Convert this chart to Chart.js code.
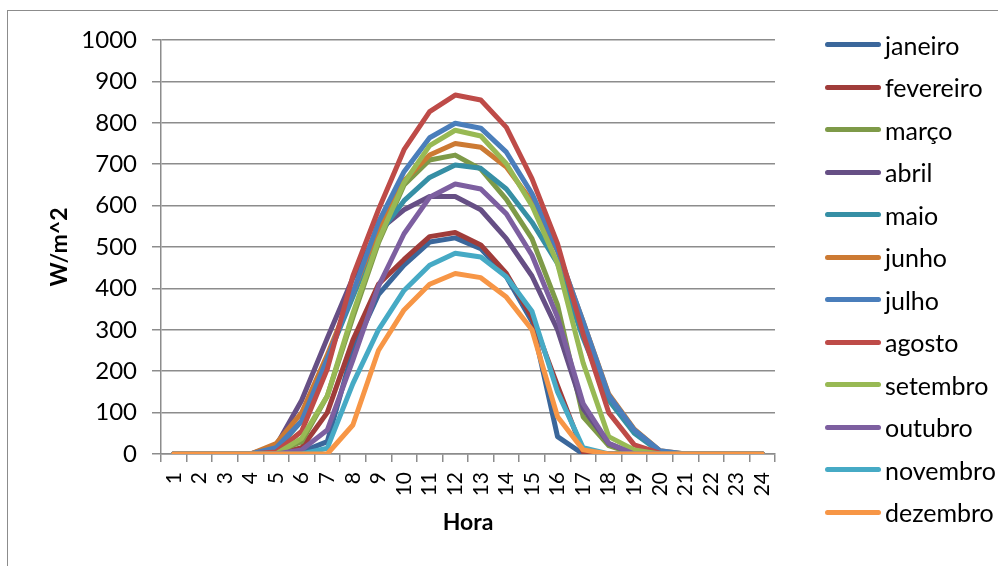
<!DOCTYPE html>
<html>
<head>
<meta charset="utf-8">
<script src="https://cdn.jsdelivr.net/npm/chart.js@4"></script>
<style>
  html, body { margin: 0; padding: 0; background: #fff; }
  body { width: 998px; height: 566px; overflow: hidden; position: relative; font-family: Lato, "Open Sans", sans-serif; }
  #frame { position: absolute; left: 7px; top: 10px; width: 1100px; height: 700px; border: 1px solid #8c8c8c; box-sizing: border-box; }
  #wrap { position: absolute; left: 0; top: 0; width: 998px; height: 566px; }
  #legend { position: absolute; left: 0; top: 0; }
  .item { position: absolute; left: 825px; height: 30px; display: flex; align-items: center; }
  .swatch { width: 56px; height: 5px; border-radius: 3px; margin-right: 4px; }
  .lbl { font-family: Lato, sans-serif; font-size: 25px; color: #000; line-height: 30px; }
</style>
</head>
<body>
<div id="frame"></div>
<div id="wrap"><canvas id="c" width="998" height="566"></canvas></div>
<div id="legend"></div>
<script>
const hours = ['1','2','3','4','5','6','7','8','9','10','11','12','13','14','15','16','17','18','19','20','21','22','23','24'];
const yTickValues = [0,100,200,300,400,500,600,700,800,900,1000];

const monthNames = ['janeiro','fevereiro','março','abril','maio','junho','julho','agosto','setembro','outubro','novembro','dezembro'];
const monthColors = ['#3B679B','#A03C3A','#7E9A48','#664F85','#368FA5','#CC7A33','#4A7EBB','#BE4B48','#98B954','#7D5FA0','#46AAC5','#F79646'];

const janeiro   = [0,0,0,0,0,5,30,250,385,456,512,522,496,428,320,42,0,0,0,0,0,0,0,0];
const fevereiro = [0,0,0,0,0,15,100,275,410,470,525,535,505,436,330,165,5,0,0,0,0,0,0,0];
const marco     = [0,0,0,0,5,30,140,330,510,650,710,722,688,615,520,360,90,20,0,0,0,0,0,0];
const abril     = [0,0,0,0,20,130,280,425,540,590,622,622,590,520,430,300,110,25,0,0,0,0,0,0];
const maio      = [0,0,0,0,10,80,230,380,530,612,668,698,690,640,560,460,280,130,50,5,0,0,0,0];
const junho     = [0,0,0,0,25,100,240,390,545,660,722,750,741,693,610,490,320,145,60,8,0,0,0,0];
const julho     = [0,0,0,0,15,80,230,390,560,682,764,799,787,729,629,492,320,142,58,8,0,0,0,0];
const agosto    = [0,0,0,0,5,55,205,430,590,735,827,867,855,789,665,508,290,100,22,2,0,0,0,0];
const setembro  = [0,0,0,0,0,38,140,340,516,655,745,782,768,701,600,460,220,42,10,0,0,0,0,0];
const outubro   = [0,0,0,0,0,10,58,227,405,532,620,652,640,580,480,330,122,26,0,0,0,0,0,0];
const novembro  = [0,0,0,0,0,0,14,170,300,395,456,485,476,428,345,150,15,0,0,0,0,0,0,0];
const dezembro  = [0,0,0,0,0,0,0,70,250,348,410,436,426,379,300,90,10,0,0,0,0,0,0,0];

const seriesValues = [janeiro,fevereiro,marco,abril,maio,junho,julho,agosto,setembro,outubro,novembro,dezembro];

const datasets = seriesValues.map((vals, i) => ({
  label: monthNames[i],
  data: vals,
  borderColor: monthColors[i],
  backgroundColor: monthColors[i],
  borderWidth: 5,
  pointRadius: 0,
  pointHoverRadius: 0,
  tension: 0,
  borderJoinStyle: 'round',
  borderCapStyle: 'round',
  order: seriesValues.length - i
}));

// HTML legend
const legend = document.getElementById('legend');
monthNames.forEach((name, i) => {
  const it = document.createElement('div');
  it.className = 'item';
  it.style.top = (44.5 + 42.5 * i - 15) + 'px';
  const sw = document.createElement('div');
  sw.className = 'swatch';
  sw.style.background = monthColors[i];
  const tx = document.createElement('span');
  tx.className = 'lbl';
  tx.textContent = name;
  it.appendChild(sw); it.appendChild(tx);
  legend.appendChild(it);
});

const gridColor = '#8c8c8c';

new Chart(document.getElementById('c'), {
  type: 'line',
  data: { labels: hours, datasets },
  options: {
    responsive: false,
    animation: false,
    layout: { padding: { left: 0, top: 40, right: 223, bottom: 0 } },
    plugins: { legend: { display: false }, tooltip: { enabled: false } },
    scales: {
      x: {
        type: 'category',
        offset: true,
        grid: { display: true, drawOnChartArea: false, drawTicks: true, tickLength: 8, offset: true, color: gridColor, lineWidth: 1.5 },
        border: { display: true, color: gridColor, width: 1.5 },
        ticks: { autoSkip: false, minRotation: 90, maxRotation: 90, padding: 10, color: '#000', font: { family: 'Lato', size: 21 } },
        title: { display: true, text: 'Hora', color: '#000', font: { family: 'Lato', size: 23, weight: 'bold' }, padding: { top: 0, bottom: 30 } },
        afterFit: (s) => { s.height = 112; }
      },
      y: {
        min: 0, max: 1000,
        afterBuildTicks: (s) => { s.ticks = yTickValues.map(v => ({ value: v })); },
        grid: { display: true, drawOnChartArea: true, drawTicks: true, tickLength: 9, color: gridColor, lineWidth: 1.5 },
        border: { display: true, color: gridColor, width: 1.5 },
        ticks: { padding: 15, color: '#000', font: { family: 'Lato', size: 24 }, callback: (v) => String(v) },
        title: { display: true, text: 'W/m^2', color: '#000', font: { family: 'Lato', size: 23, weight: 'bold' }, padding: { top: 46, bottom: 0 } },
        afterFit: (s) => { s.width = 161; }
      }
    }
  }
});
</script>
</body>
</html>
